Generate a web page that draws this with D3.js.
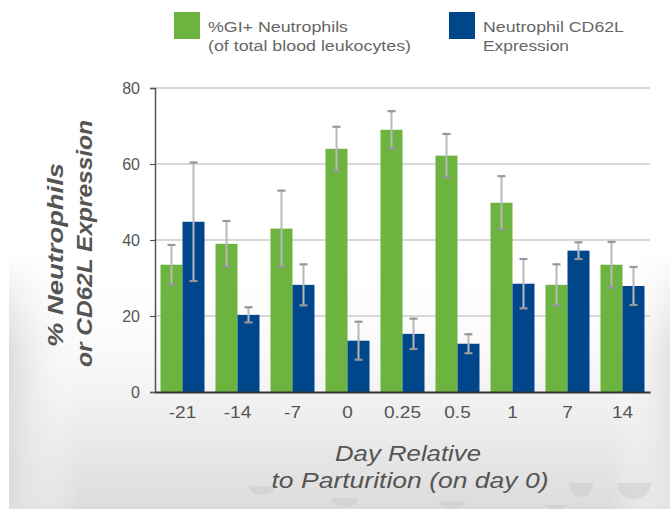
<!DOCTYPE html>
<html><head><meta charset="utf-8">
<script src="https://cdn.jsdelivr.net/npm/d3@7"></script>
<style>body{margin:0;background:#fff}svg{display:block;font-family:"Liberation Sans",Arial,sans-serif}</style>
</head><body><svg id="c" width="670" height="509"></svg>
<script>
const days = ["-21","-14","-7","0","0.25","0.5","1","7","14"];
const seriesNames = ["%GI+ Neutrophils|(of total blood leukocytes)", "Neutrophil CD62L|Expression"];
const gi = [33.5, 39.0, 43.0, 64.0, 69.0, 62.2, 49.8, 28.2, 33.5];
const giErr = [5.2, 6.0, 10.0, 5.8, 4.9, 5.7, 7.0, 5.4, 6.0];
const cd62l = [44.8, 20.3, 28.2, 13.5, 15.3, 12.7, 28.5, 37.2, 27.9];
const cd62lErr = [15.6, 2.0, 5.4, 5.0, 4.0, 2.5, 6.5, 2.2, 5.0];
const yTicks = [0, 20, 40, 60, 80];
const colors = ["#6db33f", "#00468b"];

const svg = d3.select("#c");
const defs = svg.append("defs");
const gv = defs.append("linearGradient").attr("id","gv").attr("x1",0).attr("y1",0).attr("x2",0).attr("y2",1);
gv.append("stop").attr("offset","0%").attr("stop-color","#fff").attr("stop-opacity",0);
gv.append("stop").attr("offset","55%").attr("stop-color","#f3f3f3").attr("stop-opacity",1);
gv.append("stop").attr("offset","100%").attr("stop-color","#dcdcdc").attr("stop-opacity",1);
const gl = defs.append("linearGradient").attr("id","gl").attr("x1",0).attr("y1",0).attr("x2",1).attr("y2",0);
gl.append("stop").attr("offset","0%").attr("stop-color","#dcdcdc").attr("stop-opacity",1);
gl.append("stop").attr("offset","100%").attr("stop-color","#fff").attr("stop-opacity",0);
const gr = defs.append("linearGradient").attr("id","gr").attr("x1",1).attr("y1",0).attr("x2",0).attr("y2",0);
gr.append("stop").attr("offset","0%").attr("stop-color","#e2e2e2").attr("stop-opacity",1);
gr.append("stop").attr("offset","100%").attr("stop-color","#fff").attr("stop-opacity",0);
const gm = defs.append("linearGradient").attr("id","gm").attr("x1",0).attr("y1",0).attr("x2",0).attr("y2",1);
gm.append("stop").attr("offset","0%").attr("stop-color","#fff").attr("stop-opacity",0);
gm.append("stop").attr("offset","40%").attr("stop-color","#fff").attr("stop-opacity",1);
const mk = defs.append("mask").attr("id","mk");
mk.append("rect").attr("x",0).attr("y",250).attr("width",670).attr("height",259).attr("fill","url(#gm)");

const bg = svg.append("g");
bg.append("rect").attr("x",9).attr("y",250).attr("width",661).attr("height",259).attr("fill","url(#gv)");
bg.append("rect").attr("x",9).attr("y",250).attr("width",70).attr("height",259).attr("fill","url(#gl)").attr("mask","url(#mk)");
bg.append("rect").attr("x",610).attr("y",250).attr("width",60).attr("height",259).attr("fill","url(#gr)").attr("mask","url(#mk)");
// decorative pale bowl shapes near bottom
const deco = [[262,486,13,9],[345,498,13,9],[452,501,13,8],[581,483,12,14],[634,483,17,16],[556,505,10,6]];
bg.selectAll("path.deco").data(deco).join("path").attr("class","deco")
  .attr("d",d=>`M${d[0]-d[2]},${d[1]} A${d[2]},${d[3]} 0 0 0 ${d[0]+d[2]},${d[1]} Z`)
  .attr("fill","#c8c8c8").attr("opacity",0.45);

const x0 = d3.scaleBand().domain(days).range([155, 650]).paddingInner(0.2).paddingOuter(0.1);
const x1 = d3.scaleBand().domain([0,1]).range([0, x0.bandwidth()]);
const y = d3.scaleLinear().domain([0, 80]).range([392, 88]);

// gridlines
svg.append("g").selectAll("line").data(yTicks.filter(t=>t>0)).join("line")
  .attr("x1",155).attr("x2",650).attr("y1",d=>y(d)).attr("y2",d=>y(d))
  .attr("stroke","#b3b3b3").attr("stroke-width",1.2);

// y axis
const yAxis = svg.append("g").attr("transform","translate(155,0)")
  .call(d3.axisLeft(y).tickValues(yTicks).tickSize(5).tickPadding(10));
yAxis.select(".domain").attr("stroke","#555").attr("stroke-width",1.5);
yAxis.selectAll(".tick line").attr("stroke","#555").attr("stroke-width",1.2);
yAxis.selectAll(".tick text").attr("font-size",16).attr("fill","#555").attr("font-family","Liberation Sans, Arial");

// bars
const series = [gi, cd62l];
const errs = [giErr, cd62lErr];
const bars = svg.append("g");
series.forEach((vals, s) => {
  bars.selectAll(null).data(days).join("rect")
    .attr("x", d => x0(d) + x1(s)).attr("width", x1.bandwidth())
    .attr("y", (d,i) => y(vals[i])).attr("height", (d,i) => y(0) - y(vals[i]))
    .attr("fill", colors[s]);
});
// error bars
series.forEach((vals, s) => {
  const g = svg.append("g");
  days.forEach((d,i) => {
    const cx = x0(d) + x1(s) + x1.bandwidth()/2;
    const hi = y(vals[i] + errs[s][i]), lo = y(vals[i] - errs[s][i]);
    g.append("line").attr("x1",cx).attr("x2",cx).attr("y1",hi).attr("y2",lo)
      .attr("stroke","#b8b8bb").attr("stroke-width",2);
    [hi, lo].forEach(yy => g.append("line").attr("x1",cx-4).attr("x2",cx+4).attr("y1",yy).attr("y2",yy)
      .attr("stroke","#97979b").attr("stroke-width",2.2));
  });
});

// x axis baseline + labels
const xAxis = svg.append("g").attr("transform","translate(0,392)")
  .call(d3.axisBottom(x0).tickSize(0).tickPadding(14));
xAxis.select(".domain").attr("stroke","#333").attr("stroke-width",2);
xAxis.selectAll(".tick text").attr("font-size",17).attr("fill","#555").attr("font-family","Liberation Sans, Arial")
  .attr("transform","scale(1.12,1)");

// axis titles
const yt = svg.append("g").attr("fill","#555").attr("font-weight","bold").attr("font-style","italic").attr("font-size",22);
yt.append("text").attr("transform","translate(62.5,255) rotate(-90)").attr("text-anchor","middle")
  .attr("textLength",184).attr("lengthAdjust","spacingAndGlyphs").text("% Neutrophils");
yt.append("text").attr("transform","translate(91.5,243.5) rotate(-90)").attr("text-anchor","middle")
  .attr("textLength",247).attr("lengthAdjust","spacingAndGlyphs").text("or CD62L Expression");

const xt = svg.append("g").attr("fill","#555").attr("font-style","italic").attr("font-size",22).attr("text-anchor","middle");
xt.append("text").attr("x",408).attr("y",461).attr("textLength",146).attr("lengthAdjust","spacingAndGlyphs").text("Day Relative");
xt.append("text").attr("x",410).attr("y",488).attr("textLength",277).attr("lengthAdjust","spacingAndGlyphs").text("to Parturition (on day 0)");

// legend
const legX = [174, 449];
const legW = [[140,203],[141,86]];
const leg = svg.append("g");
seriesNames.forEach((n, s) => {
  leg.append("rect").attr("x",legX[s]).attr("y",12).attr("width",26).attr("height",27).attr("fill",colors[s]);
  n.split("|").forEach((line, li) => {
    leg.append("text").attr("x",legX[s]+34).attr("y",31.5 + li*19).attr("font-size",15.5).attr("fill","#666")
      .attr("textLength",legW[s][li]).attr("lengthAdjust","spacingAndGlyphs").text(line);
  });
});
</script></body></html>
